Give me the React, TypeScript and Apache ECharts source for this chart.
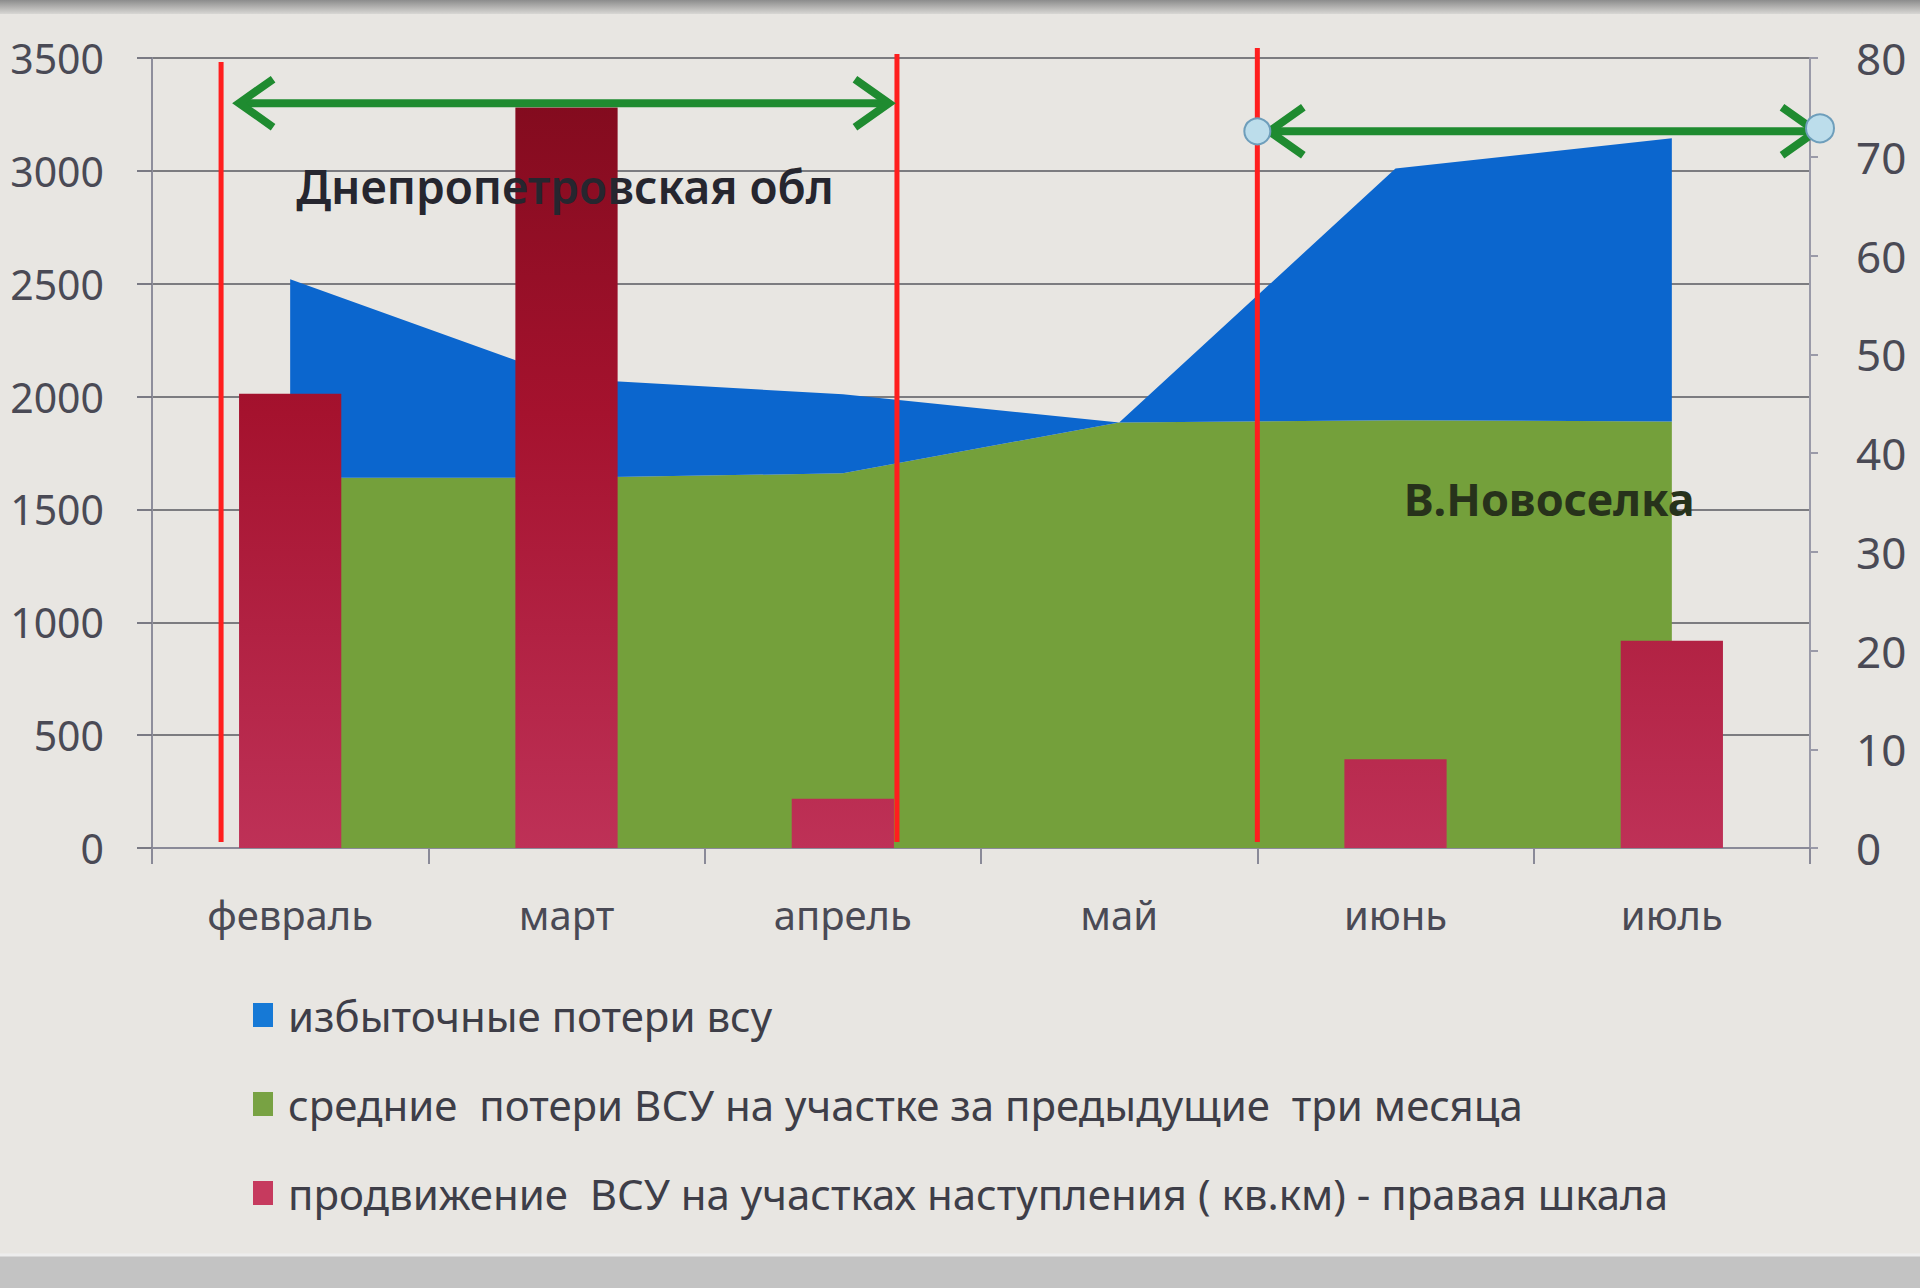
import React, { useEffect, useRef } from "react";
import * as echarts from "echarts";

const months = ["февраль", "март", "апрель", "май", "июнь", "июль"];
const averageLosses = [1640, 1640, 1660, 1885, 1895, 1890];
const excessLosses = [880, 440, 350, 0, 1115, 1255];
const advanceKm2 = [46, 75, 5, 0, 9, 21];
const seriesNames = [
  "избыточные потери всу",
  "средние  потери ВСУ на участке за предыдущие  три месяца",
  "продвижение  ВСУ на участках наступления ( кв.км) - правая шкала",
];
const regionLabels = ["Днепропетровская обл", "В.Новоселка"];
const leftAxisMax = 3500;
const leftAxisStep = 500;
const rightAxisMax = 80;
const rightAxisStep = 10;

const BLUE = "#0B66CE";
const GREEN = "#74A03B";
const RED = "#BE3157";
const ARROW = "#1F8B30";
const FONT = "'Noto Sans', 'DejaVu Sans', sans-serif";

export default function App() {
  const ref = useRef<HTMLDivElement>(null);

  useEffect(() => {
    document.body.style.margin = "0";
    const chart = echarts.init(ref.current!, undefined, { renderer: "svg" });
    const gridTop = 58;
    const gridBottomY = 848;
    chart.setOption({
      animation: false,
      backgroundColor: "#E8E6E2",
      grid: { left: 152, right: 110, top: gridTop, bottom: 1288 - gridBottomY },
      legend: {
        orient: "vertical",
        left: 248,
        top: 988,
        icon: "rect",
        itemWidth: 20,
        itemHeight: 24,
        itemGap: 45,
        selectedMode: false,
        textStyle: {
          fontFamily: FONT,
          fontSize: 42,
          color: "#3E3E48",
          lineHeight: 44,
          padding: [0, 0, 0, 10],
        },
        data: [
          { name: seriesNames[0], itemStyle: { color: "#1679D6" } },
          { name: seriesNames[1], itemStyle: { color: "#78A243" } },
          { name: seriesNames[2], itemStyle: { color: "#C63A5E" } },
        ],
      },
      xAxis: {
        type: "category",
        data: months,
        boundaryGap: true,
        axisLine: { lineStyle: { color: "#8A8A98", width: 2 } },
        axisTick: { show: true, length: 16, lineStyle: { color: "#8A8A98", width: 2 } },
        axisLabel: { fontFamily: FONT, fontSize: 40, color: "#4A4A55", margin: 46 },
      },
      yAxis: [
        {
          type: "value",
          min: 0,
          max: leftAxisMax,
          interval: leftAxisStep,
          axisLine: { show: true, lineStyle: { color: "#8E8E9C", width: 2 } },
          axisTick: { show: true, length: 15, lineStyle: { color: "#7A7A84", width: 2 } },
          axisLabel: {
            fontFamily: FONT,
            fontSize: 41,
            color: "#4A4A55",
            margin: 48,
            formatter: (v: number) => String(v),
          },
          splitLine: { show: true, lineStyle: { color: "#7C7C80", width: 2 } },
        },
        {
          type: "value",
          min: 0,
          max: rightAxisMax,
          interval: rightAxisStep,
          position: "right",
          axisLine: { show: true, lineStyle: { color: "#9A9AA8", width: 2 } },
          axisTick: { show: true, length: 8, lineStyle: { color: "#9A9AA8", width: 2 } },
          axisLabel: {
            fontFamily: FONT,
            fontSize: 44,
            color: "#4A4A55",
            margin: 46,
            formatter: (v: number) => String(v),
          },
          splitLine: { show: false },
        },
      ],
      series: [
        {
          name: seriesNames[1],
          type: "line",
          stack: "losses",
          data: averageLosses,
          symbol: "none",
          lineStyle: { width: 0 },
          itemStyle: { color: GREEN },
          areaStyle: { color: GREEN, opacity: 1 },
          z: 2,
        },
        {
          name: seriesNames[0],
          type: "line",
          stack: "losses",
          data: excessLosses,
          symbol: "none",
          lineStyle: { width: 0 },
          itemStyle: { color: BLUE },
          areaStyle: { color: BLUE, opacity: 1 },
          z: 2,
        },
        {
          name: seriesNames[2],
          type: "bar",
          yAxisIndex: 1,
          data: advanceKm2,
          barWidth: "37%",
          itemStyle: {
            color: {
              type: "linear",
              x: 0,
              y: gridTop,
              x2: 0,
              y2: gridBottomY,
              global: true,
              colorStops: [
                { offset: 0, color: "#7E0A1C" },
                { offset: 0.45, color: "#A5122E" },
                { offset: 1, color: RED },
              ],
            },
          },
          z: 3,
        },
      ],
    });

    const cx = (i: number) => chart.convertToPixel({ xAxisIndex: 0 }, i) as unknown as number;
    const cy = (v: number) => chart.convertToPixel({ yAxisIndex: 0 }, v) as unknown as number;
    const w = cx(1) - cx(0);
    const top = cy(leftAxisMax);
    const bottom = cy(0);
    const rightEdge = cx(5) + w / 2;

    const red1 = cx(0) - 0.25 * w;
    const red2 = cx(2) + 0.185 * w + 3;
    const red3 = cx(3) + 0.5 * w;

    const redLine = (x: number, y1: number, y2: number) => ({
      type: "line",
      shape: { x1: x, y1, x2: x, y2 },
      style: { stroke: "#FF1E1E", lineWidth: 5 },
      z: 100,
    });

    const arrow = (x1: number, x2: number, y: number) => [
      {
        type: "line",
        shape: { x1: x1 + 4, y1: y, x2: x2 - 4, y2: y },
        style: { stroke: ARROW, lineWidth: 8 },
        z: 101,
      },
      {
        type: "polyline",
        shape: { points: [[x1 + 34, y - 24], [x1, y], [x1 + 34, y + 24]] },
        style: { stroke: ARROW, lineWidth: 8, fill: null, lineJoin: "miter" },
        z: 101,
      },
      {
        type: "polyline",
        shape: { points: [[x2 - 34, y - 24], [x2, y], [x2 - 34, y + 24]] },
        style: { stroke: ARROW, lineWidth: 8, fill: null, lineJoin: "miter" },
        z: 101,
      },
    ];

    const a1y = cy(3300);
    const a2y = cy(3175);
    const a2x1 = red3 + 12;
    const a2x2 = rightEdge + 6;

    chart.setOption({
      graphic: [
        {
          type: "rect",
          shape: { x: 0, y: 0, width: 1920, height: 14 },
          style: {
            fill: {
              type: "linear",
              x: 0,
              y: 0,
              x2: 0,
              y2: 1,
              colorStops: [
                { offset: 0, color: "#8C8C8C" },
                { offset: 1, color: "#D8D7D4" },
              ],
            },
          },
          z: 0,
        },
        {
          type: "rect",
          shape: { x: 0, y: 1254, width: 1920, height: 34 },
          style: { fill: "#C3C3C3" },
          z: 0,
        },
        {
          type: "line",
          shape: { x1: 0, y1: 1255, x2: 1920, y2: 1255 },
          style: { stroke: "#EDEDED", lineWidth: 3 },
          z: 0,
        },
        redLine(red1, top + 4, bottom - 6),
        redLine(red2, top - 4, bottom - 6),
        redLine(red3, top - 10, bottom - 6),
        ...arrow(red1 + 18, red2 - 8, a1y),
        ...arrow(a2x1, a2x2, a2y),
        {
          type: "circle",
          shape: { cx: red3, cy: a2y, r: 13 },
          style: { fill: "#BCDDEB", stroke: "#6E9EBB", lineWidth: 2 },
          z: 102,
        },
        {
          type: "circle",
          shape: { cx: a2x2 + 4, cy: a2y - 3, r: 14 },
          style: { fill: "#BCDDEB", stroke: "#6E9EBB", lineWidth: 2 },
          z: 102,
        },
        {
          type: "text",
          x: cx(0) + 6,
          y: cy(2935),
          style: {
            text: regionLabels[0],
            fontFamily: FONT,
            fontSize: 46,
            fontWeight: 600,
            fill: "#26262F",
            textVerticalAlign: "middle",
            verticalAlign: "middle",
          },
          z: 103,
        },
        {
          type: "text",
          x: cx(4) + 0.03 * w,
          y: cy(1550),
          style: {
            text: regionLabels[1],
            fontFamily: FONT,
            fontSize: 45,
            fontWeight: "bold",
            fill: "#27321B",
            textVerticalAlign: "middle",
            verticalAlign: "middle",
          },
          z: 103,
        },
      ],
    });

    return () => chart.dispose();
  }, []);

  return (
    <div
      ref={ref}
      style={{ position: "fixed", left: 0, top: 0, width: 1920, height: 1288 }}
    />
  );
}
